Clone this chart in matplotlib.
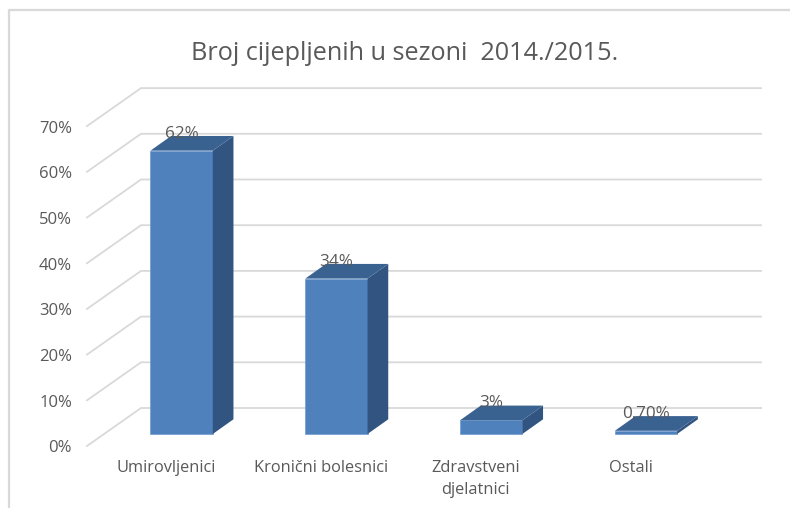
import matplotlib
matplotlib.use('Agg')
import matplotlib.pyplot as plt
from matplotlib.lines import Line2D

plt.rcParams['font.family'] = ['Open Sans', 'DejaVu Sans']

# Data
categories = ['Umirovljenici', 'Kronični bolesnici', 'Zdravstveni\ndjelatnici', 'Ostali']
values = [62, 34, 3, 0.7]
value_labels = ['62%', '34%', '3%', '0,70%']
y_ticks = [0, 10, 20, 30, 40, 50, 60, 70]
title = 'Broj cijepljenih u sezoni  2014./2015.'

# Pixel geometry of the fake 3D box
W, H = 790, 508
x0_px = 181.6     # first bar centre
x_step = 154.8    # px per category
y0_px = 434.0     # bar baseline
y_scale = 4.57    # px per percent
px_x = 1 / x_step
px_y = 1 / y_scale

fig = plt.figure(figsize=(W / 100, H / 100), dpi=100)
ax = fig.add_axes([0, 0, 1, 1])
ax.set_xlim(-x0_px * px_x, (W - x0_px) * px_x)
ax.set_ylim((y0_px - H) * px_y, y0_px * px_y)
ax.axis('off')

grid_c = '#d9d9d9'
text_c = '#595959'
front_c = '#4f81bd'
side_c = '#325480'
top_c = '#3a6291'

# Outer chart frame (left and top only, rest is cropped)
fig.add_artist(Line2D([8.5 / W, 8.5 / W, 1], [0, 1 - 10 / H, 1 - 10 / H], color='#d9d9d9', lw=1.6))

# Gridlines: diagonal wall part, then along the back wall
for t in y_ticks:
    xs = [(87 - x0_px) * px_x, (141 - x0_px) * px_x, (761 - x0_px) * px_x]
    ys = [t + (434 - 446) * px_y, t + (434 - 408) * px_y, t + (434 - 408) * px_y]
    ax.plot(xs, ys, color=grid_c, lw=1.3, zorder=1, solid_joinstyle='miter')
    ax.annotate(f'{t}%', (xs[0], ys[0]), xytext=(-15, -2.5), textcoords='offset pixels',
                ha='right', va='center', fontsize=12, color=text_c)

bar_w = 62.3 * px_x
dx = 20.7 * px_x
dy = 14.7 * px_y

for i, v in enumerate(values):
    l = i - bar_w / 2
    r = i + bar_w / 2
    ax.bar(i, v, width=bar_w, color=front_c, edgecolor='#6f9bd1', lw=0.5, zorder=3)
    ax.fill([r, r + dx, r + dx, r], [0, dy, v + dy, v], color=side_c, lw=0, zorder=3)
    ax.fill([l, r, r + dx, l + dx], [v, v, v + dy, v + dy], color=top_c, lw=0, zorder=3)
    ax.annotate(value_labels[i], (i, v), xytext=(0, 17), textcoords='offset pixels',
                ha='center', va='center', fontsize=12.3, color=text_c, zorder=5)
    ax.annotate(categories[i], (i, 0), xytext=(-15.5, -45 if '\n' in categories[i] else -34),
                textcoords='offset pixels', ha='center', va='center', fontsize=11.8,
                color=text_c, linespacing=1.5, zorder=5)

fig.text(404.5 / W, 1 - 54 / H, title, ha='center', va='center', fontsize=18.2, color=text_c)

fig.savefig('out.png', dpi=100)
